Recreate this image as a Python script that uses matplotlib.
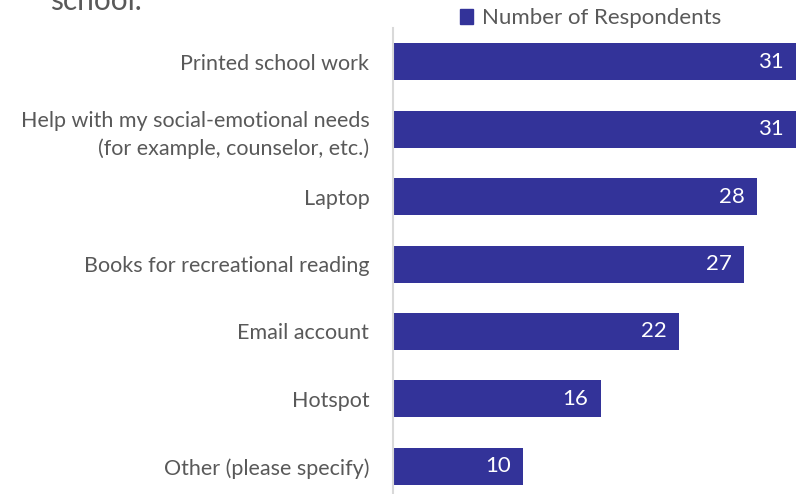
import matplotlib
matplotlib.use("Agg")
from matplotlib import pyplot as plt
from matplotlib.patches import Patch

# Survey answers, top to bottom as shown
categories = [
    "Printed school work",
    "Help with my social-emotional needs\n(for example, counselor, etc.)",
    "Laptop",
    "Books for recreational reading",
    "Email account",
    "Hotspot",
    "Other (please specify)",
]
respondents = [31, 31, 28, 27, 22, 16, 10]

bar_color = "#333399"
text_color = "#595959"

plt.rcParams["font.family"] = ["Lato", "DejaVu Sans"]

fig = plt.figure(figsize=(7.96, 4.94), dpi=100)
ax = fig.add_axes([0.4937, -0.012, 0.5063, 0.9548])

positions = list(range(len(categories)))
ax.barh(positions, respondents, height=0.55, color=bar_color)
ax.set_ylim(len(categories) - 0.5, -0.5)
ax.set_xlim(0, 31)

# value labels inside the bar ends
for pos, val in zip(positions, respondents):
    ax.annotate(str(val), xy=(val, pos), xytext=(-9, 0), textcoords="offset points",
                ha="right", va="center", color="white", fontsize=16)

ax.set_yticks(positions)
ax.set_yticklabels(categories, fontsize=15.5, color=text_color, linespacing=1.45)
ax.tick_params(axis="y", length=0, pad=17)
ax.set_xticks([])

for side in ["top", "right", "bottom"]:
    ax.spines[side].set_visible(False)
ax.spines["left"].set_color("#D9D9D9")
ax.spines["left"].set_linewidth(1.5)

# legend above the bars
handle = Patch(color=bar_color)
fig.legend([handle], ["Number of Respondents"], loc="center", bbox_to_anchor=(0.742, 0.963),
           frameon=False, fontsize=16, handlelength=0.6, handleheight=0.6,
           handletextpad=0.4, labelcolor=text_color)

# title cut off at the top of the picture
fig.text(0.063, 0.979, "school.", fontsize=21.5, color=text_color, va="baseline")

fig.savefig("out.png", dpi=100)
